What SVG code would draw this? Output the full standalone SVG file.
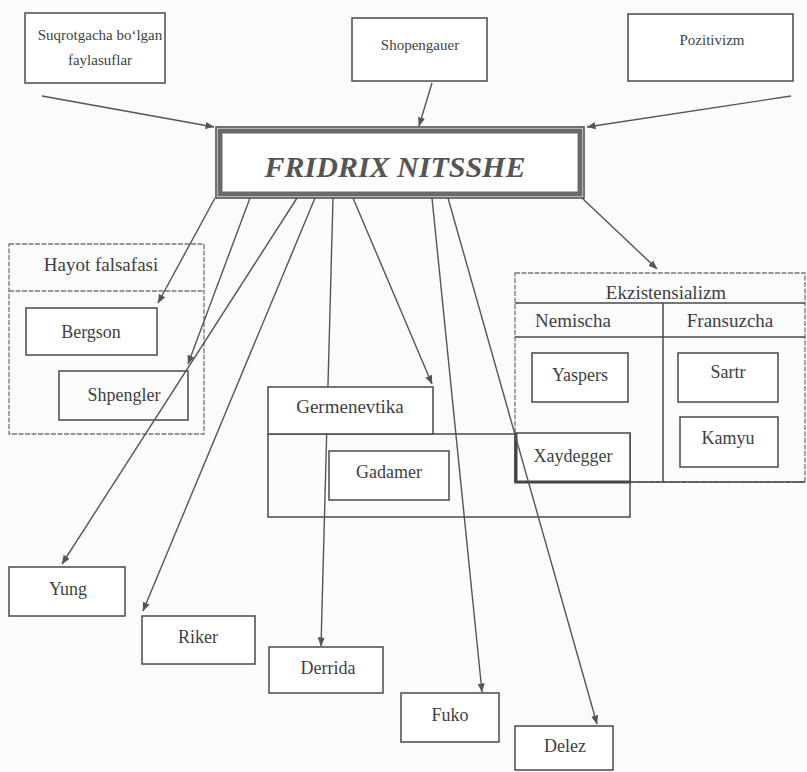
<svg xmlns="http://www.w3.org/2000/svg" width="807" height="772" viewBox="0 0 807 772">
<defs>
<marker id="ah" viewBox="0 0 10 10" refX="9.5" refY="5" markerWidth="9" markerHeight="9" orient="auto" markerUnits="userSpaceOnUse">
<path d="M0,1 L10,5 L0,9 z" fill="#555"/>
</marker>
<style>
.box{fill:#fff;stroke:#4a4a4a;stroke-width:1.5}
.nofill{fill:none;stroke:#4a4a4a;stroke-width:1.5}
.frame{fill:none;stroke:#777;stroke-width:1.3;stroke-dasharray:5 1.5}
.t{font-family:'Liberation Serif','Tinos','Noto Serif','DejaVu Serif',serif;fill:#3f3f3f;text-anchor:middle}
.s15{font-size:15px}
.s18{font-size:18px}
.s19{font-size:19px}
.big{font-size:30px;font-weight:bold;font-style:italic;fill:#555}
.c line{stroke:#555;stroke-width:1.4;marker-end:url(#ah)}
</style>
</defs>
<rect x="0" y="0" width="807" height="772" fill="#fbfbfb"/>

<g id="suqrotgacha">
<rect class="box" x="25" y="13" width="140" height="70"/>
<text class="t s15" x="100" y="40">Suqrotgacha bo‘lgan</text>
<text class="t s15" x="100" y="65">faylasuflar</text>
</g>
<g id="shopengauer">
<rect class="box" x="352" y="18" width="135" height="63"/>
<text class="t s15" x="420" y="50">Shopengauer</text>
</g>
<g id="pozitivizm">
<rect class="box" x="628" y="14" width="165" height="67"/>
<text class="t s15" x="712" y="45">Pozitivizm</text>
</g>

<g id="hayot">
<rect class="frame" x="9" y="244" width="195" height="190"/>
<line class="frame" x1="9" y1="291" x2="204" y2="291"/>
<text class="t s19" x="101" y="271">Hayot falsafasi</text>
</g>
<g id="bergson">
<rect class="box" x="26" y="308" width="131" height="47"/>
<text class="t s18" x="91" y="338">Bergson</text>
</g>
<g id="shpengler">
<rect class="nofill" x="59" y="371" width="129" height="49"/>
<text class="t s18" x="124" y="401">Shpengler</text>
</g>

<g id="germenevtika-frame">
<rect class="nofill" x="268" y="434" width="362" height="83"/>
</g>
<g id="gadamer">
<rect class="box" x="329" y="451" width="120" height="49"/>
<text class="t s18" x="389" y="478">Gadamer</text>
</g>

<g id="ekzistensializm">
<rect class="frame" x="515" y="273" width="290" height="209"/>
<line class="nofill" x1="515" y1="303" x2="805" y2="303"/>
<line class="nofill" x1="515" y1="337" x2="805" y2="337"/>
<line class="nofill" x1="663" y1="303" x2="663" y2="482"/>
<line class="nofill" x1="515" y1="482" x2="805" y2="482"/>
<text class="t s19" x="666" y="299">Ekzistensializm</text>
<text class="t s19" x="573" y="327">Nemischa</text>
<text class="t s19" x="730" y="327">Fransuzcha</text>
</g>
<g id="yaspers">
<rect class="box" x="532" y="353" width="96" height="49"/>
<text class="t s18" x="580" y="381">Yaspers</text>
</g>
<g id="sartr">
<rect class="box" x="678" y="353" width="100" height="49"/>
<text class="t s18" x="728" y="378">Sartr</text>
</g>
<g id="kamyu">
<rect class="box" x="680" y="417" width="98" height="50"/>
<text class="t s18" x="728" y="444">Kamyu</text>
</g>
<g id="xaydegger">
<rect class="box" x="515" y="433" width="115" height="49"/>
<path d="M516,433 V482 H630" fill="none" stroke="#444" stroke-width="3"/>
<text class="t s18" x="573" y="462">Xaydegger</text>
</g>

<g id="yung">
<rect class="box" x="9" y="567" width="116" height="49"/>
<text class="t s18" x="68" y="595">Yung</text>
</g>
<g id="riker">
<rect class="box" x="142" y="616" width="113" height="48"/>
<text class="t s18" x="198" y="643">Riker</text>
</g>
<g id="derrida">
<rect class="box" x="269" y="647" width="114" height="46"/>
<text class="t s18" x="328" y="674">Derrida</text>
</g>
<g id="fuko">
<rect class="box" x="401" y="693" width="98" height="49"/>
<text class="t s18" x="450" y="721">Fuko</text>
</g>
<g id="delez">
<rect class="box" x="515" y="726" width="98" height="44"/>
<text class="t s18" x="565" y="752">Delez</text>
</g>

<g id="connectors" class="c">
<line x1="42" y1="96" x2="214" y2="127"/>
<line x1="432" y1="83" x2="419" y2="126"/>
<line x1="791" y1="96" x2="587" y2="127"/>
<line x1="215" y1="198" x2="158" y2="303"/>
<line x1="250" y1="198" x2="188" y2="364"/>
<line x1="297" y1="198" x2="62" y2="564"/>
<line x1="315" y1="198" x2="143" y2="611"/>
<line x1="333" y1="198" x2="321" y2="646"/>
<line x1="353" y1="198" x2="432" y2="384"/>
<line x1="432" y1="198" x2="482" y2="692"/>
<line x1="448" y1="198" x2="597" y2="724"/>
<line x1="582" y1="198" x2="657" y2="269"/>
</g>

<g id="germenevtika">
<rect class="box" x="268" y="387" width="165" height="47"/>
<text class="t s19" x="350" y="413">Germenevtika</text>
</g>

<g id="nitsshe">
<rect x="216" y="127" width="368" height="71" fill="#fff" stroke="#444" stroke-width="1.5"/>
<rect x="220" y="131" width="360" height="63" fill="none" stroke="#6a6a6a" stroke-width="5"/>
<text class="t big" x="395" y="177">FRIDRIX NITSSHE</text>
</g>
</svg>
